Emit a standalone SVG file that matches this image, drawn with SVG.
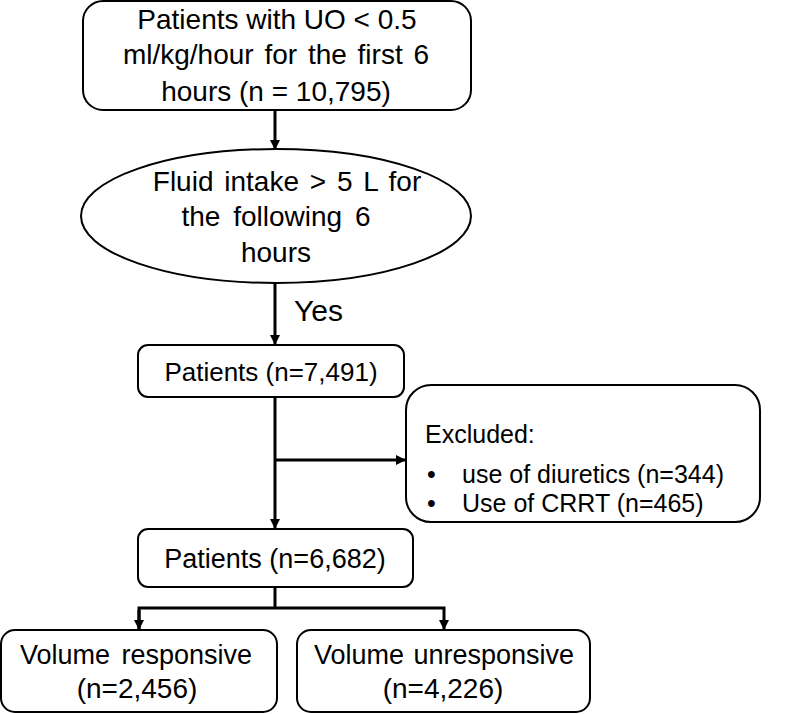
<svg xmlns="http://www.w3.org/2000/svg" width="789" height="714" viewBox="0 0 789 714">
<style>
.box{fill:#fff;stroke:#000;stroke-width:2}
.t{font-family:"Liberation Sans",Arial,sans-serif;font-size:28px;fill:#000;text-anchor:middle}
.l{text-anchor:start;font-size:25px}
.c{fill:none;stroke:#000;stroke-width:3}
</style>
<defs>
<marker id="ah" markerWidth="10" markerHeight="10" refX="9" refY="5" orient="auto" markerUnits="userSpaceOnUse">
<path d="M0,0 L10,5 L0,10 z" fill="#000"/>
</marker>
</defs>
<rect width="789" height="714" fill="#fff"/>
<g id="connectors">
<line class="c" x1="275" y1="110" x2="275" y2="149" marker-end="url(#ah)"/>
<line class="c" x1="275" y1="283" x2="275" y2="344" marker-end="url(#ah)"/>
<line class="c" x1="275" y1="397" x2="275" y2="528" marker-end="url(#ah)"/>
<line class="c" x1="275" y1="460" x2="405" y2="460" marker-end="url(#ah)"/>
<polyline class="c" points="275,587 275,608"/>
<polyline class="c" points="139,629 139,608 444,608 444,629" marker-end="url(#ah)"/>
<line class="c" x1="139" y1="610" x2="139" y2="629" marker-end="url(#ah)"/>
<text class="t" x="294" y="321" style="font-size:30px;text-anchor:start">Yes</text>
</g>
<g id="n1">
<rect class="box" x="83" y="1" width="388" height="109" rx="20"/>
<text class="t" x="277" y="29">Patients with UO &lt; 0.5</text>
<text class="t" x="276" y="64" word-spacing="3">ml/kg/hour for the first 6</text>
<text class="t" x="276" y="101">hours (n = 10,795)</text>
</g>
<g id="n2">
<ellipse class="box" cx="276" cy="216" rx="195" ry="67"/>
<text class="t" x="287" y="191" word-spacing="3">Fluid intake &gt; 5 L for</text>
<text class="t" x="276" y="226" word-spacing="5">the following 6</text>
<text class="t" x="276" y="262">hours</text>
</g>
<g id="n3">
<rect class="box" x="138" y="345" width="266" height="52" rx="10"/>
<text class="t" x="271" y="381" style="font-size:26px">Patients (n=7,491)</text>
</g>
<g id="n4">
<rect class="box" x="406" y="385" width="354" height="137" rx="25"/>
<text class="t l" x="425" y="443">Excluded:</text>
<text class="t l" x="427" y="483">•</text>
<text class="t l" x="462" y="483">use of diuretics (n=344)</text>
<text class="t l" x="427" y="512">•</text>
<text class="t l" x="462" y="512">Use of CRRT (n=465)</text>
</g>
<g id="n5">
<rect class="box" x="138" y="529" width="275" height="58" rx="10"/>
<text class="t" x="275" y="568" style="font-size:27px">Patients (n=6,682)</text>
</g>
<g id="n6">
<rect class="box" x="1" y="630" width="276" height="82" rx="14"/>
<text class="t" x="136" y="664" word-spacing="4" style="font-size:27px">Volume responsive</text>
<text class="t" x="137" y="698">(n=2,456)</text>
</g>
<g id="n7">
<rect class="box" x="297" y="630" width="293" height="82" rx="14"/>
<text class="t" x="444" y="664" word-spacing="2" style="font-size:27px">Volume unresponsive</text>
<text class="t" x="443" y="698">(n=4,226)</text>
</g>
</svg>
